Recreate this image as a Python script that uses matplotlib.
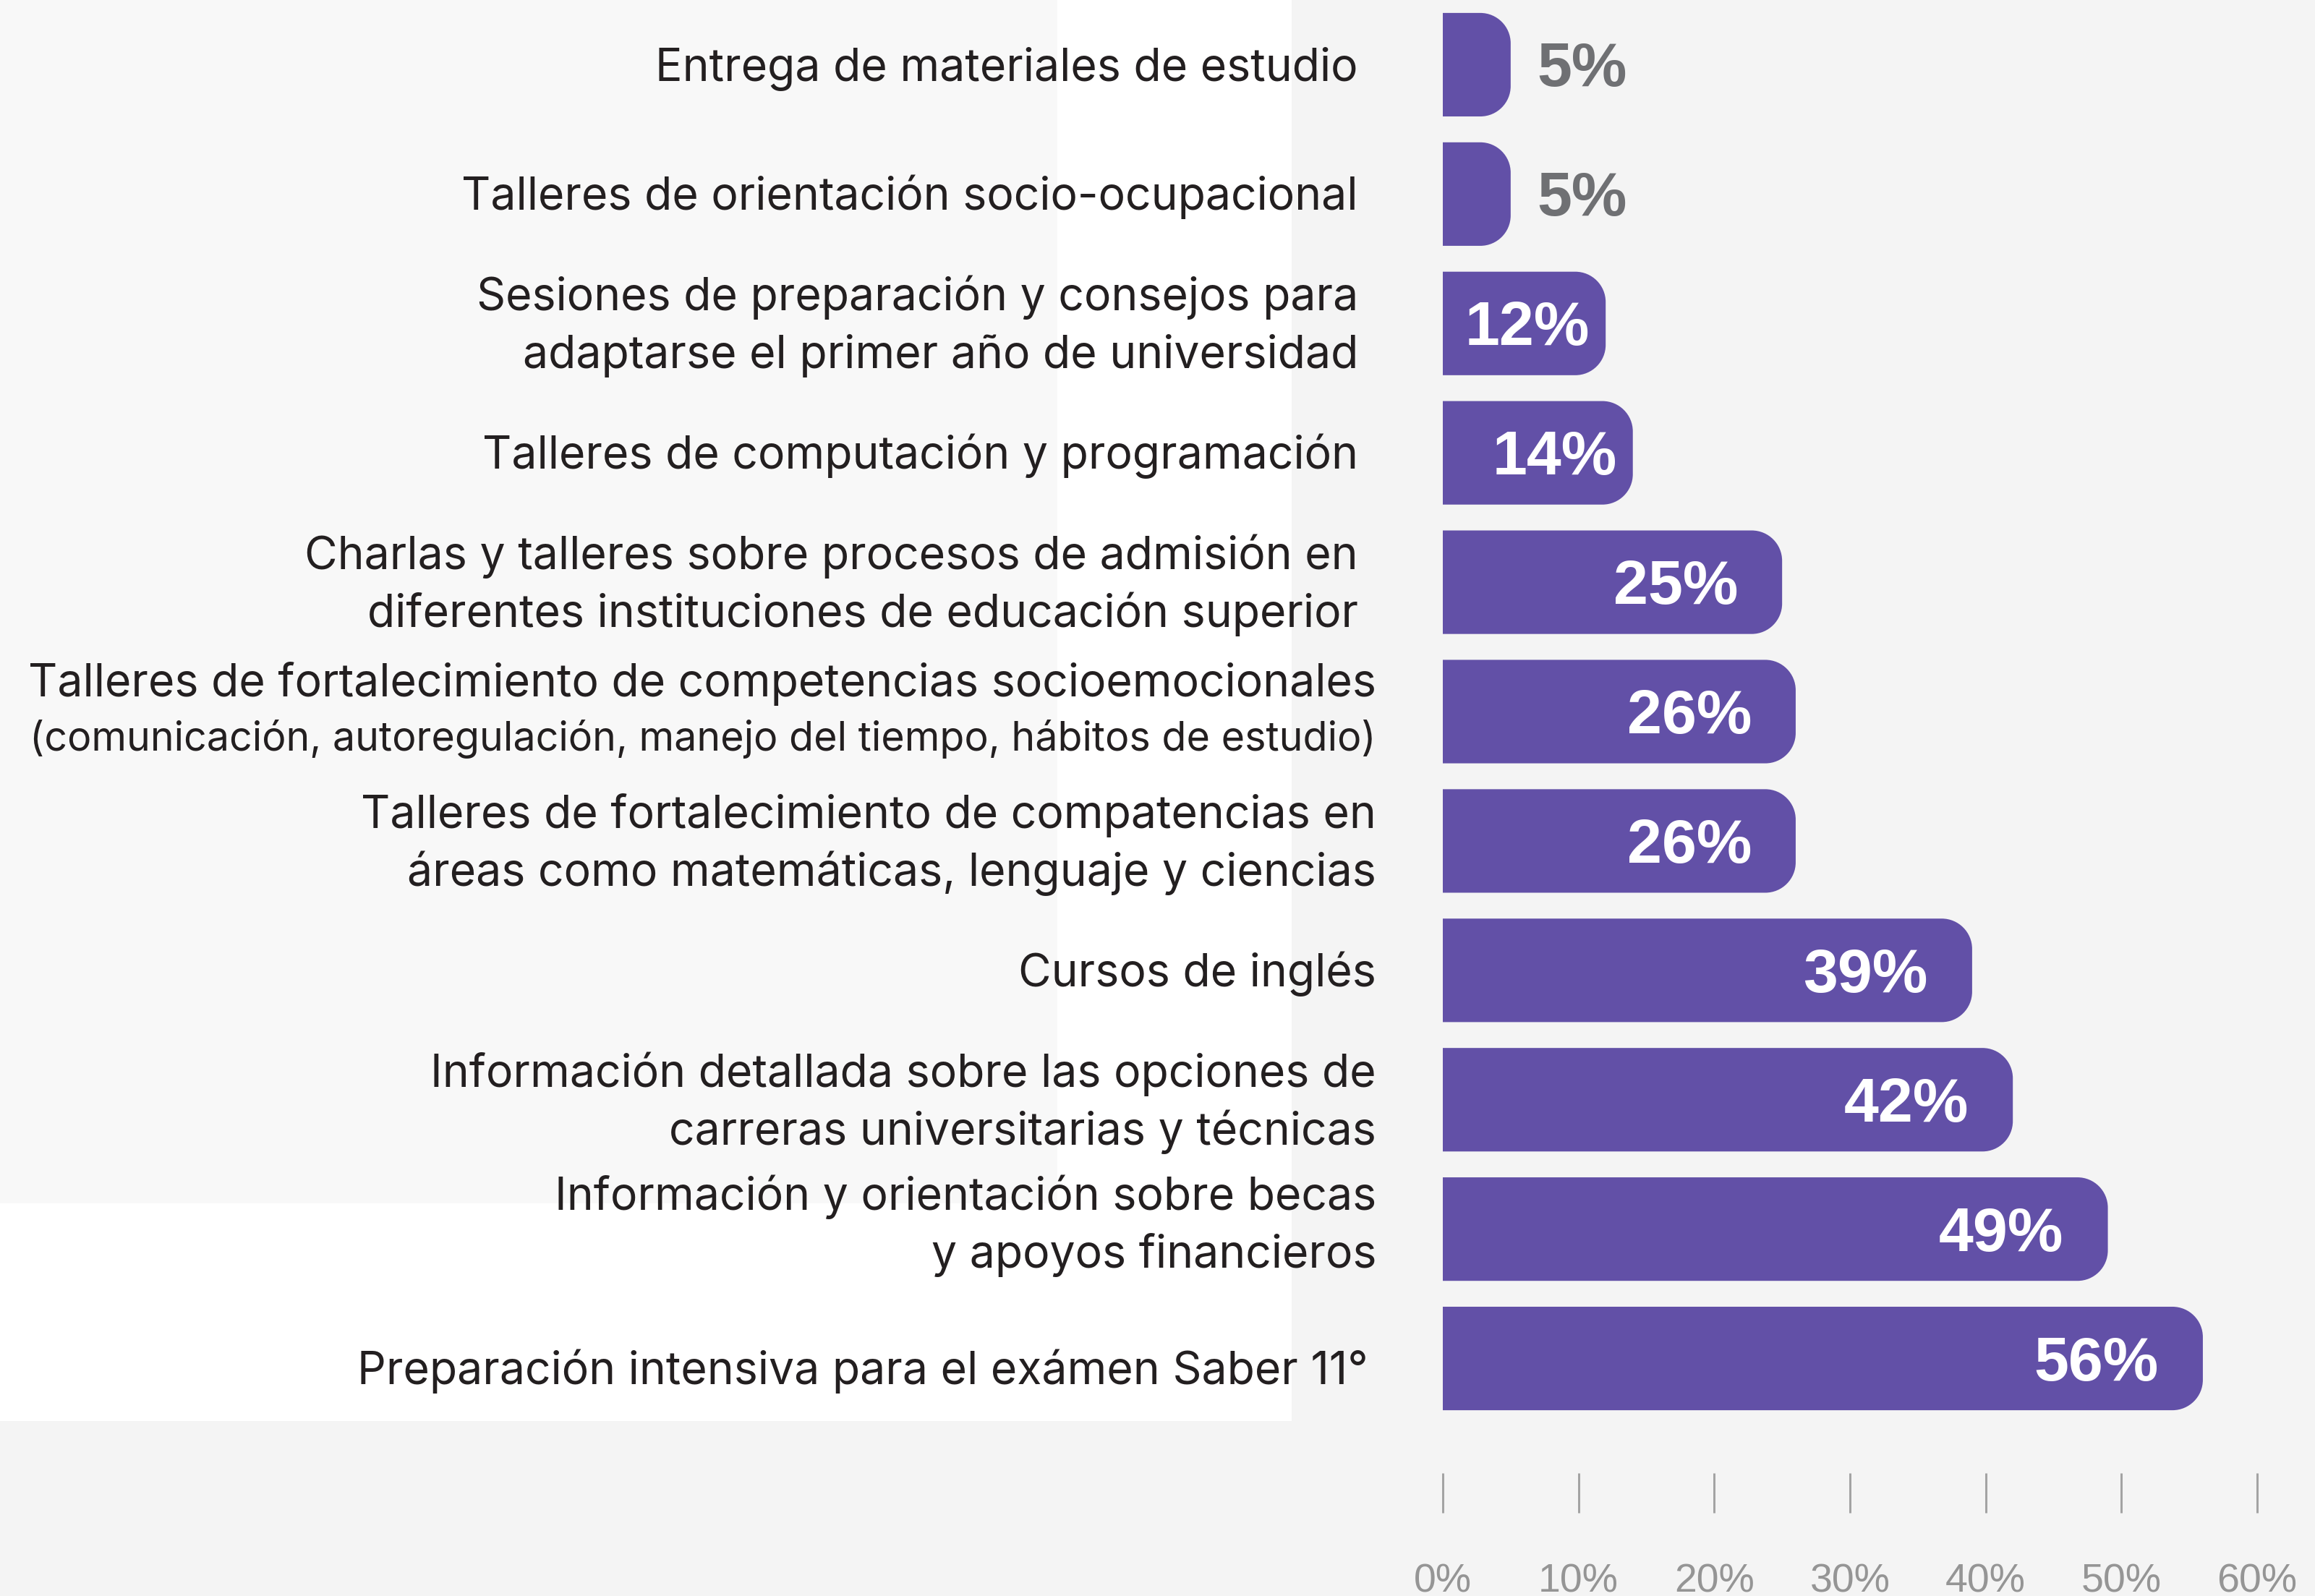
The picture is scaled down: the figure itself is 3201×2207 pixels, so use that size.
import matplotlib

matplotlib.use("Agg")

import matplotlib.pyplot as plt
from matplotlib import transforms
from matplotlib.patches import PathPatch, Rectangle
from matplotlib.path import Path

categories = [
    "Entrega de materiales de estudio",
    "Talleres de orientación socio-ocupacional",
    "Sesiones de preparación y consejos para\nadaptarse el primer año de universidad",
    "Talleres de computación y programación",
    "Charlas y talleres sobre procesos de admisión en\ndiferentes instituciones de educación superior",
    "Talleres de fortalecimiento de competencias socioemocionales\n"
    "(comunicación, autoregulación, manejo del tiempo, hábitos de estudio)",
    "Talleres de fortalecimiento de compatencias en\náreas como matemáticas, lenguaje y ciencias",
    "Cursos de inglés",
    "Información detallada sobre las opciones de\ncarreras universitarias y técnicas",
    "Información y orientación sobre becas\ny apoyos financieros",
    "Preparación intensiva para el exámen Saber 11°",
]
values = [5, 5, 12, 14, 25, 26, 26, 39, 42, 49, 56]
xticks = [0, 10, 20, 30, 40, 50, 60]

BAR = "#6250a7"
INK = "#231f20"
VALUE_GREY = "#6f7073"
TICK_GREY = "#a3a3a3"

W, H, DPI = 3201, 2207, 100
PT = 72 / DPI  # points per pixel

fig = plt.figure(figsize=(W / DPI, H / DPI), dpi=DPI)
fig.patch.set_facecolor("#f4f4f4")


def fig_rect(x0, y0, x1, y1, color):
    # rectangle given in pixels from the top-left corner
    fig.patches.append(Rectangle((x0 / W, 1 - y1 / H), (x1 - x0) / W, (y1 - y0) / H,
                                 transform=fig.transFigure, color=color, lw=0, zorder=-10))


# label panel backdrop
fig_rect(0, 0, 1786, 1965, "#ffffff")
fig_rect(0, 0, 1462, 1664, "#f8f8f8")

ax_left, ax_right, ax_bottom = 1995, 3121, 1968
ax = fig.add_axes((ax_left / W, 1 - ax_bottom / H, (ax_right - ax_left) / W, ax_bottom / H))
ax.set_facecolor("none")
n = len(values)
ax.set_xlim(0, 60)
ax.set_ylim(n - 0.5, -0.5)

px_x = (ax_right - ax_left) / 60.0  # pixels per x unit
px_y = ax_bottom / n                # pixels per y unit

bar_h = 0.8
radius = 42
rx, ry = radius / px_x, radius / px_y
k = 0.5523


def rounded_bar(yc, v):
    y0, y1 = yc - bar_h / 2, yc + bar_h / 2
    verts = [
        (0, y0), (v - rx, y0),
        (v - rx + k * rx, y0), (v, y0 + ry - k * ry), (v, y0 + ry),
        (v, y1 - ry),
        (v, y1 - ry + k * ry), (v - rx + k * rx, y1), (v - rx, y1),
        (0, y1), (0, y0),
    ]
    codes = [Path.MOVETO, Path.LINETO,
             Path.CURVE4, Path.CURVE4, Path.CURVE4,
             Path.LINETO,
             Path.CURVE4, Path.CURVE4, Path.CURVE4,
             Path.LINETO, Path.CLOSEPOLY]
    return PathPatch(Path(verts, codes), facecolor=BAR, edgecolor="none")


value_font = dict(family="Liberation Sans", weight="bold", fontsize=62)
cap_half = 30  # px, half the cap height of the value labels

for i, v in enumerate(values):
    ax.add_patch(rounded_bar(i, v))
    if v < 10:
        ax.annotate(f"{v}%", (v, i), xytext=(37 * PT, -cap_half * PT),
                    textcoords="offset points", ha="left", va="baseline",
                    color=VALUE_GREY, **value_font)
    else:
        pad = 22 if v < 20 else 61
        ax.annotate(f"{v}%", (v, i), xytext=(-pad * PT, -cap_half * PT),
                    textcoords="offset points", ha="right", va="baseline",
                    color="white", **value_font)

# category labels, right aligned against the bars
label_right = [1878, 1878, 1878, 1878, 1878, 1903, 1903, 1903, 1903, 1903, 1892]
label_nudge = [0, 0, 0, 0, 0, 0, 0, 0, 0, -9, 14]
trans = transforms.blended_transform_factory(fig.transFigure, ax.transData)
main_size, note_size = 45, 40
line_gap = 80

for i, text in enumerate(categories):
    lines = text.split("\n")
    if len(lines) == 1:
        centers = [0]
    elif lines[1].startswith("("):
        centers = [-43, 35]
    else:
        centers = [-line_gap / 2, line_gap / 2]
    for line, c in zip(lines, centers):
        size = note_size if line.startswith("(") else main_size
        cap = 0.7 * size / PT
        ax.annotate(line, (label_right[i] / W, i), xycoords=trans,
                    xytext=(0, -(c + label_nudge[i] + cap / 2) * PT),
                    textcoords="offset points", ha="right", va="baseline",
                    family="Inter", fontsize=size, color=INK,
                    annotation_clip=False)

# axis ticks hang well below the bars
for side in ("top", "right", "left", "bottom"):
    ax.spines[side].set_visible(False)
ax.spines["bottom"].set_position(("outward", 69 * PT))
ax.set_yticks([])
ax.set_xticks(xticks)
ax.set_xticklabels([f"{t}%" for t in xticks])
ax.tick_params(axis="x", direction="out", length=55 * PT, width=3 * PT,
               color=TICK_GREY, pad=70 * PT, labelsize=40, labelcolor="#959595")
for lbl in ax.get_xticklabels():
    lbl.set_fontfamily("Liberation Sans")

fig.savefig("out.png", dpi=DPI, facecolor=fig.get_facecolor())
